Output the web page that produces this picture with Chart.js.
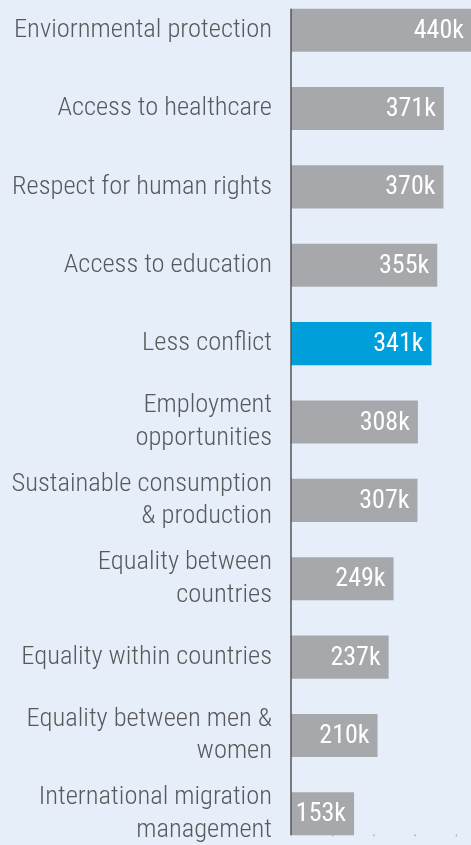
<!DOCTYPE html>
<html>
<head>
<meta charset="utf-8">
<script src="https://cdn.jsdelivr.net/npm/chart.js@4.4.1/dist/chart.umd.min.js"></script>
<style>
  html, body { margin: 0; padding: 0; background: #e6eefa; overflow: hidden; width: 471px; height: 845px; }
  #wrap { position: absolute; left: 0; top: -9px; width: 497px; height: 862px; }
</style>
</head>
<body>
<div id="wrap"><canvas id="chart"></canvas></div>
<script>
const categories = [
  'Enviornmental protection',
  'Access to healthcare',
  'Respect for human rights',
  'Access to education',
  'Less conflict',
  ['Employment', 'opportunities'],
  ['Sustainable consumption', '& production'],
  ['Equality between', 'countries'],
  'Equality within countries',
  ['Equality between men &', 'women'],
  ['International migration', 'management']
];
const values = [440, 371, 370, 355, 341, 308, 307, 249, 237, 210, 153];
const highlightIndex = 4;
const xTicks = [100, 200, 300, 400];

const FONT = "'Roboto Condensed', 'DejaVu Sans Condensed', sans-serif";

// value labels + axis line + small ticks
const extras = {
  id: 'extras',
  afterDatasetsDraw(chart) {
    const ctx = chart.ctx;
    const meta = chart.getDatasetMeta(0);
    const x = chart.scales.x;
    ctx.save();
    ctx.font = '400 26px ' + FONT;
    ctx.fillStyle = '#ffffff';
    ctx.textAlign = 'right';
    ctx.textBaseline = 'middle';
    meta.data.forEach((bar, i) => {
      ctx.fillText(values[i] + 'k', Math.min(bar.x, 472) - 8, bar.y + 1);
    });
    const first = meta.data[0], last = meta.data[meta.data.length - 1];
    const top = first.y - first.height / 2, bottom = last.y + last.height / 2;
    ctx.strokeStyle = '#555555';
    ctx.lineWidth = 1.5;
    ctx.beginPath();
    ctx.moveTo(x.left, top);
    ctx.lineTo(x.left, bottom);
    ctx.stroke();
    ctx.fillStyle = '#9aa0a8';
    xTicks.forEach(t => ctx.fillRect(x.getPixelForValue(t), bottom - 1, 1, 2));
    ctx.restore();
  }
};

new Chart(document.getElementById('chart').getContext('2d'), {
  type: 'bar',
  data: {
    labels: categories,
    datasets: [{
      data: values,
      backgroundColor: values.map((v, i) => i === highlightIndex ? '#009fdc' : '#a7a8ab'),
      categoryPercentage: 1,
      barPercentage: 0.55
    }]
  },
  options: {
    indexAxis: 'y',
    responsive: true,
    maintainAspectRatio: false,
    animation: false,
    layout: { padding: 0 },
    plugins: { legend: { display: false }, tooltip: { enabled: false } },
    scales: {
      x: { display: false, min: 0, max: 500 },
      y: {
        afterFit: (s) => { s.width = 291; s.paddingTop = 0; s.paddingBottom = 0; },
        grid: { display: false },
        border: { display: false },
        ticks: {
          padding: 11,
          color: '#58595b',
          font: { family: FONT, size: 26.5, weight: 300, lineHeight: 1.23 }
        }
      }
    }
  },
  plugins: [extras]
});
</script>
</body>
</html>
